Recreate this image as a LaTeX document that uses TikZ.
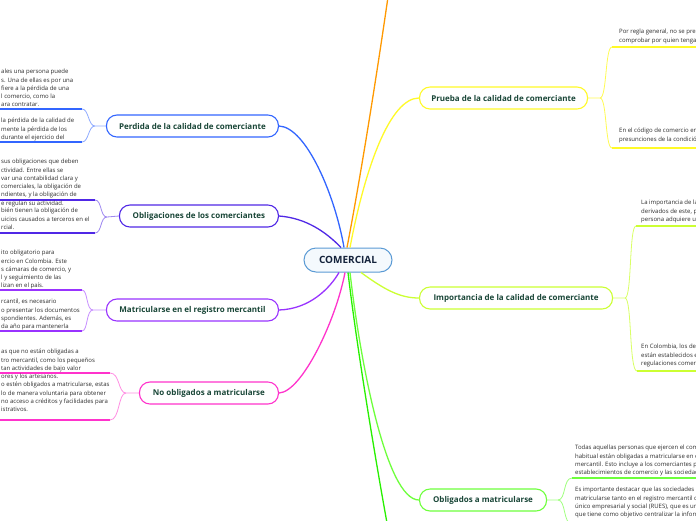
\documentclass[tikz,border=0pt]{standalone}
\usepackage{fontspec}
\setmainfont{Open Sans}
\usetikzlibrary{calc}
\definecolor{cblue}{RGB}{51,102,255}
\definecolor{cindigo}{RGB}{80,40,230}
\definecolor{cpurple}{RGB}{153,51,255}
\definecolor{cmagenta}{RGB}{255,51,204}
\definecolor{corange}{RGB}{255,153,0}
\definecolor{cyellow}{RGB}{255,250,40}
\definecolor{clime}{RGB}{204,255,51}
\definecolor{cgreen}{RGB}{110,255,60}
\definecolor{cbgreen}{RGB}{40,240,0}
\definecolor{ctext}{RGB}{25,70,55}
\definecolor{bodytext}{RGB}{45,45,45}
\definecolor{cborder}{RGB}{91,155,213}
\definecolor{cfill}{RGB}{244,249,253}
\definecolor{cnavy}{RGB}{20,35,60}
\tikzset{
  topic/.style={draw, line width=1.1pt, fill=white, rounded corners=10.5pt,
    minimum height=22pt, inner sep=0pt,
    font=\fontsize{8}{10}\selectfont\bfseries, text=ctext},
  bodyblock/.style={inner sep=0pt, align=left, anchor=north west,
    font=\fontsize{6}{8.3}\selectfont, text=bodytext},
  conn/.style={line width=1.3pt},
  forkline/.style={line width=0.8pt},
  uline/.style={line width=1.3pt}
}
\begin{document}
\begin{tikzpicture}[x=1pt,y=-1pt]
\useasboundingbox (0,0) rectangle (696,520);
\clip (0,0) rectangle (696,520);
\fill[white] (0,0) rectangle (696,520);

% central node
\node[draw=cborder, fill=cfill, line width=1pt, rounded corners=12pt,
  minimum width=88pt, minimum height=24pt, inner sep=0pt,
  font=\fontsize{10}{12}\selectfont\bfseries, text=cnavy] (c) at (348,260) {COMERCIAL};

% main topics
\node[topic, draw=cblue, minimum width=172pt, anchor=east] (P) at (279,126) {Perdida de la calidad de comerciante};
\node[topic, draw=cindigo, minimum width=159pt, anchor=east] (O) at (279,216) {Obligaciones de los comerciantes};
\node[topic, draw=cpurple, minimum width=172pt, anchor=east] (M) at (279,310) {Matricularse en el registro mercantil};
\node[topic, draw=cmagenta, minimum width=139pt, anchor=east] (N) at (279,393) {No obligados a matricularse};
\node[topic, draw=cyellow, minimum width=168pt, anchor=west] (Pr) at (419,98) {Prueba de la calidad de comerciante};
\node[topic, draw=clime, minimum width=193pt, anchor=west] (I) at (419,298) {Importancia de la calidad de comerciante};
\node[topic, draw=cgreen, minimum width=127pt, anchor=west] (Ob) at (419,500) {Obligados a matricularse};

% off-screen ends
\coordinate (offtop) at (388,-3);
\coordinate (offbot) at (387,523);

% connectors from centre
\draw[conn, corange] ($(c.north)+(-1,0)$) .. controls (360,180) and (376,80) .. (offtop);
\draw[conn, cblue] (P.east) .. controls (306,127) and (335,195) .. ($(c.north)+(-4,0)$);
\draw[conn, cindigo] (O.east) .. controls (306,218) and (326,232) .. ($(c.north)+(-7,0)$);
\draw[conn, cyellow] ($(c.north)+(2,0)$) .. controls (365,168) and (390,98) .. (Pr.west);
\draw[conn, cpurple] (M.east) .. controls (310,309) and (330,288) .. ($(c.south)+(-9,0)$);
\draw[conn, cmagenta] (N.east) .. controls (302,392) and (336,320) .. ($(c.south)+(-3,0)$);
\draw[conn, clime] ($(c.south)+(13,0)$) .. controls (385,290) and (400,298) .. (I.west);
\draw[conn, cgreen] ($(c.south)+(2,0)$) .. controls (360,360) and (386,500) .. (Ob.west);
\draw[conn, cbgreen] ($(c.south)+(0,0)$) .. controls (356,340) and (372,440) .. (offbot);

% ---- left sub-branches ----
% Perdida
\coordinate (Pf) at (95,126);
\coordinate (Pu) at (82,109); \coordinate (Pue) at (-2,109);
\coordinate (Pd) at (82,142); \coordinate (Pde) at (-2,142);
\draw[forkline, cblue!55] (P.west) -- (Pf) .. controls (88,126) and (89,109) .. (Pu);
\draw[forkline, cblue!55] (Pf) .. controls (88,126) and (89,142) .. (Pd);
\draw[uline, cblue] (Pu) -- (Pue);
\draw[uline, cblue] (Pd) -- (Pde);
\node[bodyblock] (Pt1) at (1,69) {ales una persona puede\\s. Una de ellas es por una\\fiere a la pérdida de una\\l comercio, como la\\ara contratar.};
\node[bodyblock] (Pt2) at (1,118) {la pérdida de la calidad de\\mente la pérdida de los\\durante el ejercicio del};

% Obligaciones
\coordinate (Of) at (107,217);
\coordinate (Ou) at (95,200); \coordinate (Oue) at (-2,200);
\coordinate (Od) at (95,233); \coordinate (Ode) at (-2,233);
\draw[forkline, cindigo!55] (O.west) -- (Of) .. controls (100,217) and (102,200) .. (Ou);
\draw[forkline, cindigo!55] (Of) .. controls (100,217) and (102,233) .. (Od);
\draw[uline, cindigo] (Ou) -- (Oue);
\draw[uline, cindigo] (Od) -- (Ode);
\node[bodyblock] (Ot1) at (1,159) {sus obligaciones que deben\\ctividad. Entre ellas se\\var una contabilidad clara y\\comerciales, la obligación de\\ndientes, y la obligación de\\e regulan su actividad.};
\node[bodyblock] (Ot2) at (1,208) {bién tienen la obligación de\\uicios causados a terceros en el\\rcial.};

% Matricularse
\coordinate (Mf) at (93,310);
\coordinate (Mu) at (82,290); \coordinate (Mue) at (-2,290);
\coordinate (Md) at (82,331); \coordinate (Mde) at (-2,331);
\draw[forkline, cpurple!55] (M.west) -- (Mf) .. controls (86,310) and (88,290) .. (Mu);
\draw[forkline, cpurple!55] (Mf) .. controls (86,310) and (88,331) .. (Md);
\draw[uline, cpurple] (Mu) -- (Mue);
\draw[uline, cpurple] (Md) -- (Mde);
\node[bodyblock] (Mt1) at (1,250) {ito obligatorio para\\ercio en Colombia. Este\\s cámaras de comercio, y\\l y seguimiento de las\\lizan en el país.};
\node[bodyblock] (Mt2) at (1,299) {rcantil, es necesario\\o presentar los documentos\\spondientes. Además, es\\da año para mantenerla};

% No obligados
\coordinate (Nf) at (126,393);
\coordinate (Nu) at (110,373); \coordinate (Nue) at (-2,373);
\coordinate (Nd) at (110,420); \coordinate (Nde) at (-2,420);
\draw[forkline, cmagenta!55] (N.west) -- (Nf) .. controls (118,393) and (120,373) .. (Nu);
\draw[forkline, cmagenta!55] (Nf) .. controls (118,393) and (120,420) .. (Nd);
\draw[uline, cmagenta] (Nu) -- (Nue);
\draw[uline, cmagenta] (Nd) -- (Nde);
\node[bodyblock] (Nt1) at (1,349) {as que no están obligadas a\\tro mercantil, como los pequeños\\tan actividades de bajo valor\\ores y los artesanos.};
\node[bodyblock] (Nt2) at (1,382) {o estén obligados a matricularse, estas\\lo de manera voluntaria para obtener\\no acceso a créditos y facilidades para\\istrativos.};

% ---- right sub-branches ----
% Prueba
\coordinate (Prf) at (600,98);
\coordinate (Pru) at (612,47); \coordinate (Prue) at (698,47);
\coordinate (Prd) at (612,148); \coordinate (Prde) at (698,148);
\draw[forkline, cyellow!80] (Pr.east) -- (Prf) .. controls (607,98) and (605,47) .. (Pru);
\draw[forkline, cyellow!80] (Prf) .. controls (607,98) and (605,148) .. (Prd);
\draw[uline, cyellow] (Pru) -- (Prue);
\draw[uline, cyellow] (Prd) -- (Prde);
\node[bodyblock] (Prt1) at (619,29) {Por regla general, no se presume\\comprobar por quien tenga};
\node[bodyblock] (Prt2) at (619,128) {En el código de comercio en\\presunciones de la condición};

% Importancia
\coordinate (If) at (625,298);
\coordinate (Iu) at (636,226); \coordinate (Iue) at (698,226);
\coordinate (Id) at (637,371); \coordinate (Ide) at (698,371);
\draw[forkline, clime!75] (I.east) -- (If) .. controls (632,298) and (629,226) .. (Iu);
\draw[forkline, clime!75] (If) .. controls (632,298) and (629,371) .. (Id);
\draw[uline, clime] (Iu) -- (Iue);
\draw[uline, clime] (Id) -- (Ide);
\node[bodyblock] (It1) at (641,200) {La importancia de la\\derivados de este, p\\persona adquiere u};
\node[bodyblock] (It2) at (641,344) {En Colombia, los de\\están establecidos e\\regulaciones comer};

% Obligados
\coordinate (Obf) at (558,500);
\coordinate (Obu) at (572,478); \coordinate (Obue) at (698,478);
\coordinate (Obd) at (572,524); \coordinate (Obde) at (698,524);
\draw[forkline, cgreen!65] (Ob.east) -- (Obf) .. controls (566,500) and (563,478) .. (Obu);
\draw[forkline, cgreen!65] (Obf) .. controls (566,500) and (563,524) .. (Obd);
\draw[uline, cgreen] (Obu) -- (Obue);
\draw[uline, cgreen] (Obd) -- (Obde);
\node[bodyblock] (Obt1) at (575,445) {Todas aquellas personas que ejercen el comercio\\habitual están obligadas a matricularse en el\\mercantil. Esto incluye a los comerciantes per\\establecimientos de comercio y las sociedades};
\node[bodyblock] (Obt2) at (575,487) {Es importante destacar que las sociedades\\matricularse tanto en el registro mercantil co\\único empresarial y social (RUES), que es un\\que tiene como objetivo centralizar la inform};
\end{tikzpicture}
\end{document}
